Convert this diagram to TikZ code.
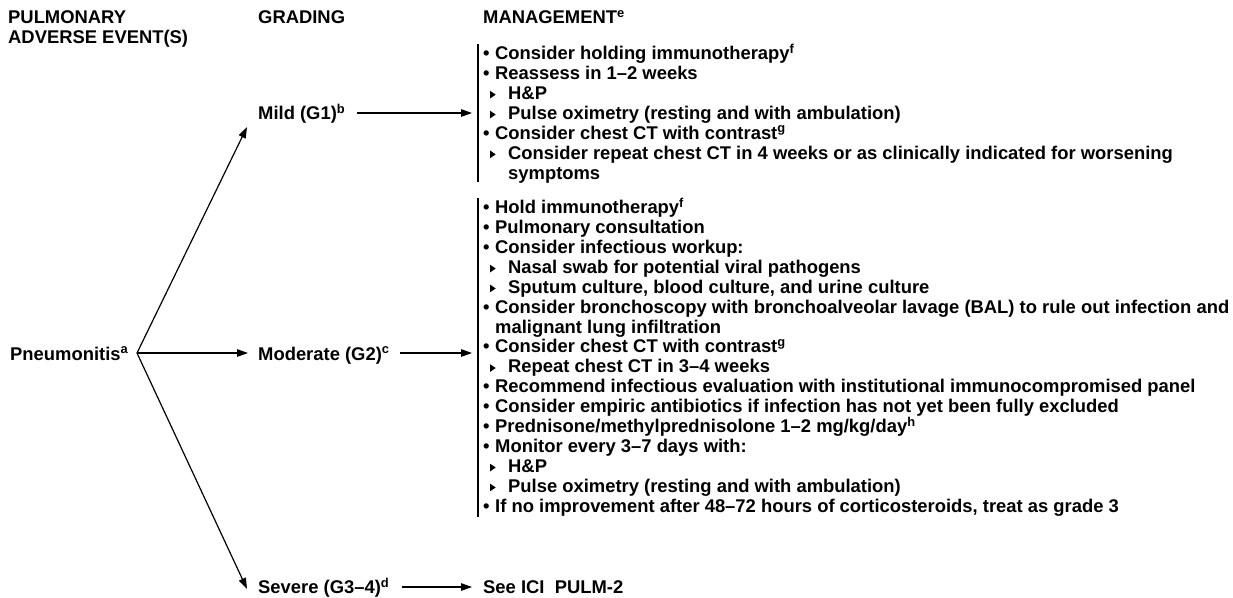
\documentclass[tikz,border=0pt]{standalone}
\usepackage{fontspec}
\setmainfont{Liberation Sans}
\usetikzlibrary{arrows.meta,calc}
\newcommand{\bul}{\makebox[12pt][l]{•}}
\newcommand{\tritip}{\tikz[baseline=0pt,x=1pt,y=1pt]{\fill (0,1)--(0,8.5)--(5.5,4.75)--cycle;}}
\newcommand{\subb}{\hspace*{7pt}\makebox[18pt][l]{\tritip}}
\newcommand{\subcont}{\hspace*{25pt}}
\newcommand{\bcont}{\hspace*{12pt}}
\newcommand{\blk}[1]{\begin{tabular}[t]{@{}l@{}}#1\end{tabular}}
\newcommand{\sps}[1]{\smash{\textsuperscript{#1}}}
\begin{document}
\begin{tikzpicture}[x=1pt,y=-1pt,
  txt/.style={inner sep=0pt, anchor=base west, font=\fontsize{18.4}{19.9}\selectfont\bfseries},
  arr/.style={line width=1.2pt, -{Triangle[length=11pt,width=7.5pt]}},
  barline/.style={line width=1.2pt}]
\useasboundingbox (0,0) rectangle (1233,597);
% headers
\node[txt] (h1) at (8,23.6) {\blk{PULMONARY\\ADVERSE EVENT(S)}};
\node[txt] (h2) at (258,23.6) {GRADING};
\node[txt] (h3) at (483,23.6) {MANAGEMENT\sps{e}};
% left node
\node[txt] (pneu) at (10,360) {Pneumonitis\sps{a}};
\coordinate (hub) at (137,353);
% grading nodes
\node[txt] (mild) at (258,119.6) {Mild (G1)\sps{b}};
\node[txt] (mod) at (258,360) {Moderate (G2)\sps{c}};
\node[txt] (sev) at (258,593.5) {Severe (G3--4)\sps{d}};
\coordinate (mildin) at (247,127);
\coordinate (modin) at (248,353);
\coordinate (sevin) at (247,589);
\draw[arr] (hub) -- (mildin);
\draw[arr] (hub) -- (modin);
\draw[arr] (hub) -- (sevin);
% management
\node[txt] (mildm) at (483,59.6) {\blk{%
\bul Consider holding immunotherapy\sps{f}\\
\bul Reassess in 1--2 weeks\\
\subb H\&P\\
\subb Pulse oximetry (resting and with ambulation)\\
\bul Consider chest CT with contrast\sps{g}\\
\subb Consider repeat chest CT in 4 weeks or as clinically indicated for worsening\\
\subcont symptoms}};
\node[txt] (modm) at (483,213.6) {\blk{%
\bul Hold immunotherapy\sps{f}\\
\bul Pulmonary consultation\\
\bul Consider infectious workup:\\
\subb Nasal swab for potential viral pathogens\\
\subb Sputum culture, blood culture, and urine culture\\
\bul Consider bronchoscopy with bronchoalveolar lavage (BAL) to rule out infection and\\
\bcont malignant lung infiltration\\
\bul Consider chest CT with contrast\sps{g}\\
\subb Repeat chest CT in 3--4 weeks\\
\bul Recommend infectious evaluation with institutional immunocompromised panel\\
\bul Consider empiric antibiotics if infection has not yet been fully excluded\\
\bul Prednisone/methylprednisolone 1--2 mg/kg/day\sps{h}\\
\bul Monitor every 3--7 days with:\\
\subb H\&P\\
\subb Pulse oximetry (resting and with ambulation)\\
\bul If no improvement after 48--72 hours of corticosteroids, treat as grade 3}};
\node[txt] (see) at (483,593.5) {See ICI\ \ PULM-2};
% bars
\coordinate (mbt) at (478,44);
\coordinate (mbb) at (478,182);
\coordinate (dbt) at (478,198);
\coordinate (dbb) at (478,517);
\draw[barline] (mbt) -- (mbb);
\draw[barline] (dbt) -- (dbb);
% grade arrows
\coordinate (mildbar) at (472,113);
\coordinate (modbar) at (472,353);
\coordinate (sevbar) at (472,587);
\draw[arr] ($(mild.east |- mildbar)+(12,0)$) -- (mildbar);
\draw[arr] ($(mod.east |- modbar)+(10,0)$) -- (modbar);
\draw[arr] ($(sev.east |- sevbar)+(12,0)$) -- (sevbar);
\end{tikzpicture}
\end{document}
